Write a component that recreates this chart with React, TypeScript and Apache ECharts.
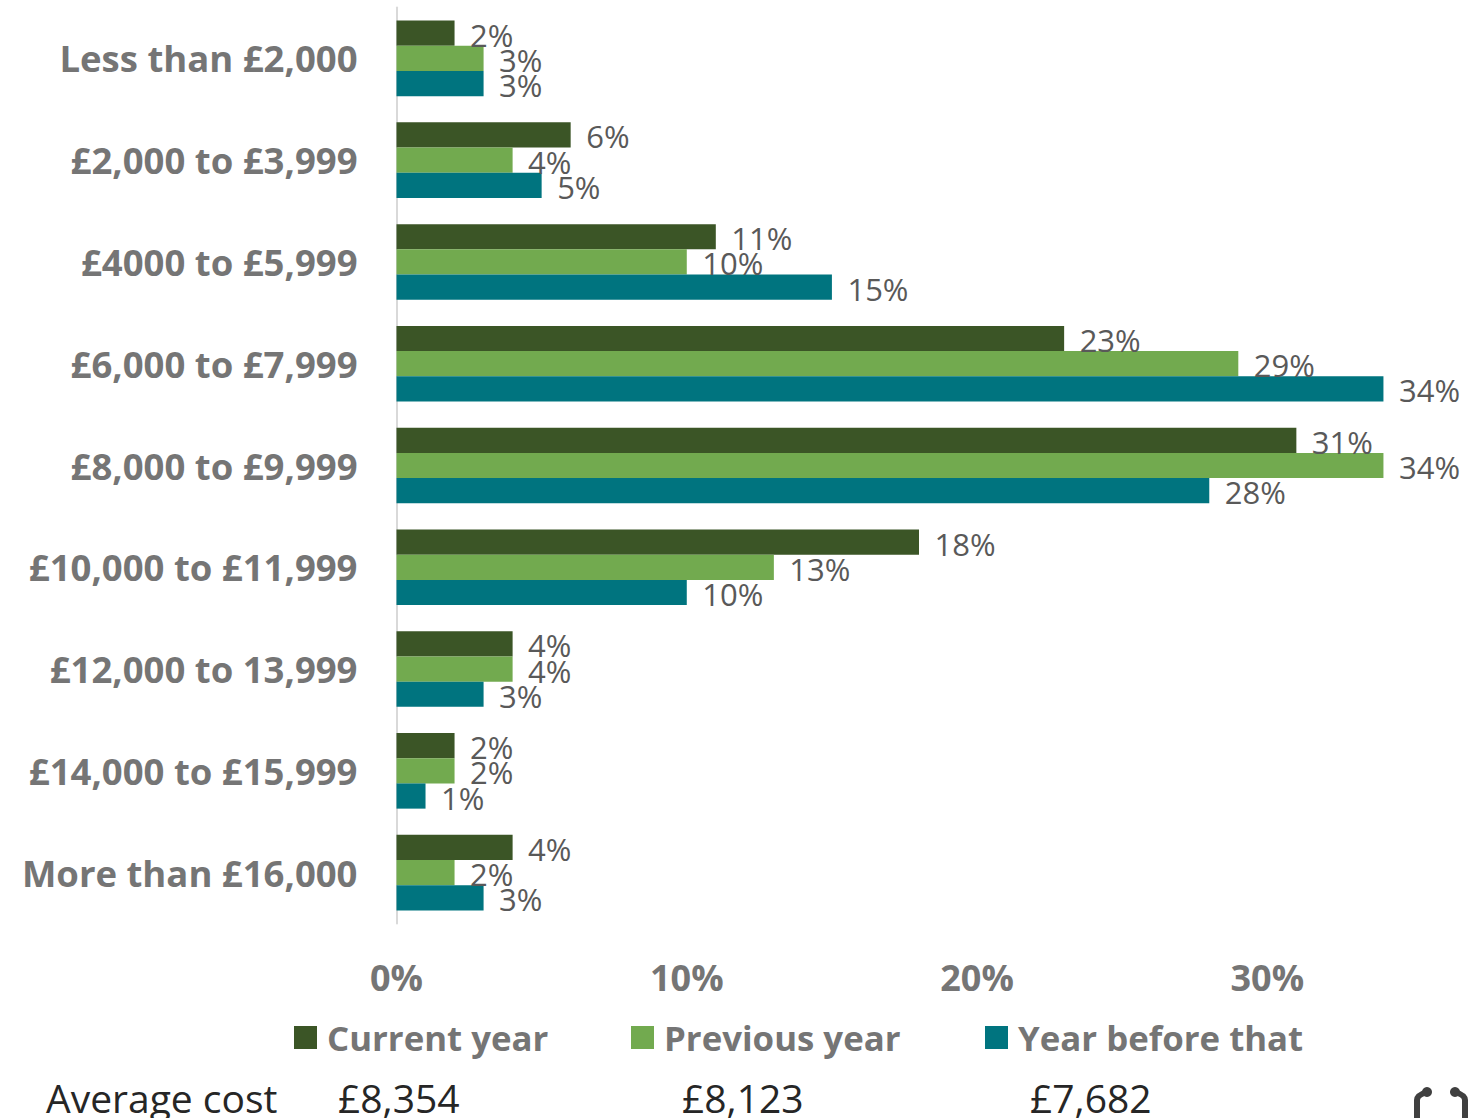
import React, { useEffect, useRef } from "react";
import * as echarts from "echarts";

const categories = ["Less than £2,000", "£2,000 to £3,999", "£4000 to £5,999", "£6,000 to £7,999", "£8,000 to £9,999", "£10,000 to £11,999", "£12,000 to 13,999", "£14,000 to £15,999", "More than £16,000"];
const currentYear = [2, 6, 11, 23, 31, 18, 4, 2, 4];
const previousYear = [3, 4, 10, 29, 34, 13, 4, 2, 2];
const yearBefore = [3, 5, 15, 34, 28, 10, 3, 1, 3];
const averageCosts = ["£8,354", "£8,123", "£7,682"];
const FONT = "'Open Sans', 'Noto Sans', sans-serif";
const GREY = "#757575";

echarts.graphic.registerShape("hookL", echarts.graphic.extendPath("M1417 1118 L1417 1100 Q1417 1095 1427 1092", {}) as any);
echarts.graphic.registerShape("hookR", echarts.graphic.extendPath("M1465 1118 L1465 1100 Q1465 1095 1455 1092", {}) as any);

const series = (name: string, data: number[], color: string) => ({
  name,
  type: "bar",
  data,
  barWidth: 25.2,
  barGap: 0,
  itemStyle: { color },
  label: {
    show: true,
    position: "right",
    distance: 15.5,
    formatter: "{c}%",
    fontFamily: FONT,
    fontSize: 31,
    color: "#595959",
    offset: [0, 1.5],
  },
});

const legendItem = (name: string, left: number) => ({
  data: [name],
  left,
  top: 1020,
  padding: 0,
  itemWidth: 23,
  itemHeight: 23,
  icon: "rect",
  textStyle: { fontFamily: FONT, fontSize: 34.8, fontWeight: "bold", color: GREY, padding: [0, 0, 0, 5] },
});

const costText = (text: string, x: number) => ({
  type: "text",
  x,
  y: 1097,
  style: { text, fontFamily: FONT, fontSize: 39, fill: "#262626", textVerticalAlign: "middle" },
});

export default function App() {
  const ref = useRef<HTMLDivElement>(null);
  useEffect(() => {
    document.body.style.margin = "0";
    const chart = echarts.init(ref.current!, null, { renderer: "svg" });
    chart.setOption({
      animation: false,
      backgroundColor: "#ffffff",
      grid: { left: 396.5, top: 7.5, width: 1045, height: 916, containLabel: false },
      legend: [legendItem("Current year", 294), legendItem("Previous year", 631), legendItem("Year before that", 985)],
      xAxis: {
        type: "value",
        min: 0,
        max: 36,
        interval: 10,
        splitLine: { show: false },
        axisLine: { show: false },
        axisTick: { show: false },
        axisLabel: { formatter: "{value}%", showMaxLabel: false, margin: 36, fontFamily: FONT, fontSize: 36, fontWeight: "bold", color: GREY },
      },
      yAxis: {
        type: "category",
        inverse: true,
        data: categories,
        axisLine: { lineStyle: { color: "#d9d9d9", width: 2 } },
        axisTick: { show: false },
        axisLabel: { margin: 39, padding: [3, 0, 0, 0], fontFamily: FONT, fontSize: 36.5, fontWeight: "bold", color: GREY },
      },
      series: [
        series("Current year", currentYear, "#3b5526"),
        series("Previous year", previousYear, "#72aa4f"),
        series("Year before that", yearBefore, "#00747f"),
      ],
      graphic: [
        costText("Average cost", 46),
        costText(averageCosts[0], 338),
        costText(averageCosts[1], 682),
        costText(averageCosts[2], 1030),
        { type: "hookL", style: { fill: "none", stroke: "#404040", lineWidth: 6 } },
        { type: "hookR", style: { fill: "none", stroke: "#404040", lineWidth: 6 } },
        { type: "circle", shape: { cx: 1427, cy: 1092, r: 5 }, style: { fill: "#404040" } },
        { type: "circle", shape: { cx: 1455, cy: 1092, r: 5 }, style: { fill: "#404040" } },
      ],
    });
    return () => chart.dispose();
  }, []);
  return <div ref={ref} style={{ width: 1484, height: 1118 }} />;
}
